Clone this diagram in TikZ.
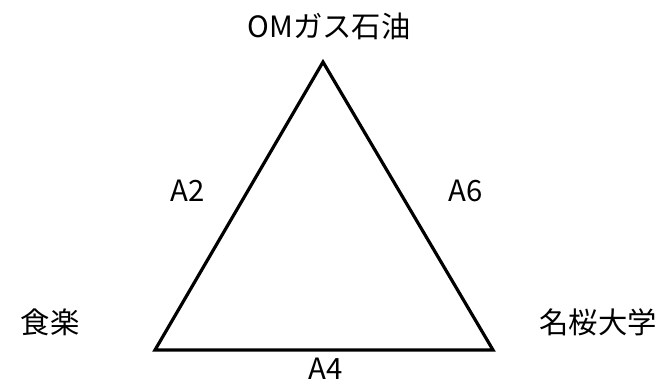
\documentclass[tikz,border=0pt]{standalone}
\usepackage{fontspec}
\setmainfont{Noto Sans CJK JP}
\usetikzlibrary{positioning}
\tikzstyle{lbl}=[font=\fontsize{22pt}{26pt}\selectfont, inner sep=0pt]
\tikzstyle{edge}=[draw, line width=2.4pt, line join=miter]

\begin{document}
\begin{tikzpicture}[x=0.75pt, y=-0.75pt]
		\useasboundingbox (0,0) rectangle (656,387);
		\coordinate (T) at (323,62);
		\coordinate (L) at (155,350);
		\coordinate (R) at (493,350);
		\draw[edge] (T) -- (L) -- (R) -- cycle;
	%--------------------
		\node[lbl] (top) at (329,26) {OMガス石油};
		\node[lbl] (left) at (50,322) {食楽};
		\node[lbl] (right) at (598,322) {名桜大学};
		\node[lbl] (a2) at (188,191) {A2};
		\node[lbl] (a6) at (466,191) {A6};
		\node[lbl] (a4) at (326,369) {A4};
	\end{tikzpicture}
\end{document}
